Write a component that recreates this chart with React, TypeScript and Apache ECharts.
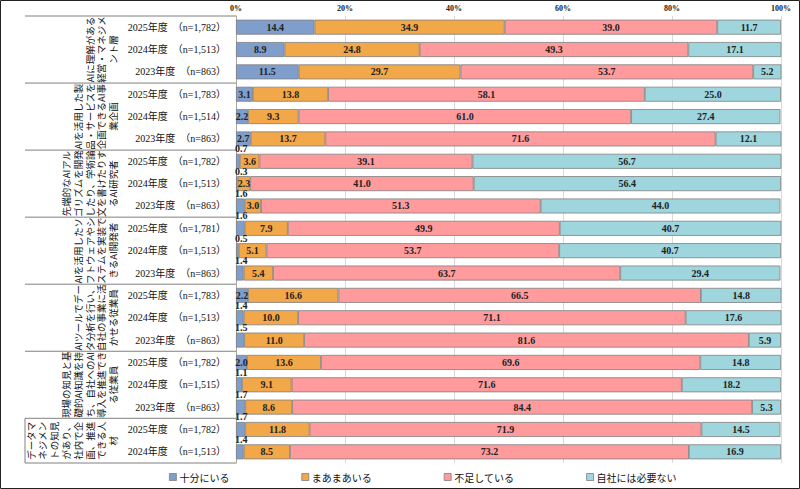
import React, { useEffect, useRef } from "react";
import * as echarts from "echarts";

const seriesNames = ["十分にいる", "まあまあいる", "不足している", "自社には必要ない"];
const colors = ["#7f9ecb", "#f2a748", "#ff9b9d", "#9fd5dc"];

const groupLines: string[][] = [
  ["AIに理解がある", "経営・マネジメ", "ント層"],
  ["AIを活用した製", "品・サービスを", "企画できるAI事", "業企画"],
  ["先端的なAIアル", "ゴリズムを開発", "したり、学術論", "文を書けたりす", "るAI研究者"],
  ["AIを活用したソ", "フトウェアやシ", "ステムを実装で", "きるAI開発者"],
  ["AIツールでデー", "タ分析を行い、", "自社の事業に活", "かせる従業員"],
  ["現場の知見と基", "礎的AI知識を持", "ち、自社へのAI", "導入を推進でき", "る従業員"],
  ["データマ", "ネジメン", "トの知見", "があり、", "社内で企", "画、推進", "できる人", "材"],
];
const groupSizes = [3, 3, 3, 3, 3, 3, 2];

const years = [
  "2025年度", "2024年度", "2023年度",
  "2025年度", "2024年度", "2023年度",
  "2025年度", "2024年度", "2023年度",
  "2025年度", "2024年度", "2023年度",
  "2025年度", "2024年度", "2023年度",
  "2025年度", "2024年度", "2023年度",
  "2025年度", "2024年度",
];
const nValues = [
  "1,782", "1,513", "863",
  "1,783", "1,514", "863",
  "1,782", "1,513", "863",
  "1,781", "1,513", "863",
  "1,783", "1,513", "863",
  "1,782", "1,515", "863",
  "1,782", "1,513",
];

const sufficient = [14.4, 8.9, 11.5, 3.1, 2.2, 2.7, 0.7, 0.3, 1.6, 1.6, 0.5, 1.4, 2.2, 1.4, 1.5, 2.0, 1.1, 1.7, 1.7, 1.4];
const somewhat = [34.9, 24.8, 29.7, 13.8, 9.3, 13.7, 3.6, 2.3, 3.0, 7.9, 5.1, 5.4, 16.6, 10.0, 11.0, 13.6, 9.1, 8.6, 11.8, 8.5];
const shortage = [39.0, 49.3, 53.7, 58.1, 61.0, 71.6, 39.1, 41.0, 51.3, 49.9, 53.7, 63.7, 66.5, 71.1, 81.6, 69.6, 71.6, 84.4, 71.9, 73.2];
const unnecessary = [11.7, 17.1, 5.2, 25.0, 27.4, 12.1, 56.7, 56.4, 44.0, 40.7, 40.7, 29.4, 14.8, 17.6, 5.9, 14.8, 18.2, 5.3, 14.5, 16.9];

const xTicks = [0, 20, 40, 60, 80, 100];

const W = 800;
const H = 489;
const GRID_LEFT = 236;
const GRID_RIGHT = 19;
const GRID_TOP = 16;
const GRID_BOTTOM = 26;

const NUM_FONT = "'Liberation Serif', 'Noto Sans CJK JP', serif";
const JP_FONT = "'Noto Sans CJK JP', sans-serif";

export default function App() {
  const ref = useRef<HTMLDivElement>(null);

  useEffect(() => {
    if (!ref.current) return;
    const chart = echarts.init(ref.current, null, { renderer: "svg" });

    const categories = years.map((y, i) => `${y}　（n=${nValues[i]}）`);
    const nRows = categories.length;
    const rowH = (H - GRID_TOP - GRID_BOTTOM) / nRows;

    const allData = [sufficient, somewhat, shortage, unnecessary];

    const series = allData.map((arr, si) => ({
      name: seriesNames[si],
      type: "bar",
      stack: "total",
      barWidth: 15,
      itemStyle: { color: colors[si], borderColor: "#808080", borderWidth: 0.8 },
      data: arr.map((v) => {
        const small = si === 0 && v < 2;
        return {
          value: v,
          label: small
            ? {
                show: true,
                position: [-1, -10],
                align: "left",
                verticalAlign: "top",
              }
            : { show: true, position: "inside" },
        };
      }),
      label: {
        show: true,
        formatter: (p: any) => Number(p.value).toFixed(1),
        fontSize: 10,
        fontFamily: NUM_FONT,
        fontWeight: "bold",
        color: "#222",
      },
    }));

    const graphics: any[] = [];
    graphics.push({
      type: "rect",
      shape: { x: 0.5, y: 0.5, width: W - 1, height: H - 1 },
      style: { fill: "none", stroke: "#222", lineWidth: 1 },
      silent: true,
    });
    let idx = 0;
    groupSizes.forEach((size, g) => {
      const yStart = GRID_TOP + idx * rowH;
      const yEnd = GRID_TOP + (idx + size) * rowH;
      graphics.push({
        type: "line",
        shape: { x1: 25, y1: yStart, x2: GRID_LEFT, y2: yStart },
        style: { stroke: "#808080", lineWidth: 1 },
        silent: true,
      });
      const lines = groupLines[g];
      const lh = 11.8;
      lines.forEach((line, li) => {
        const cx = 119 - (lines.length - li - 0.5) * lh;
        graphics.push({
          type: "text",
          x: cx,
          y: (yStart + yEnd) / 2,
          rotation: Math.PI / 2,
          style: {
            text: line,
            fontSize: 9.5,
            fontFamily: JP_FONT,
            fill: "#111",
            align: "center",
            verticalAlign: "middle",
          },
          silent: true,
        });
      });
      idx += size;
    });
    const yBottom = GRID_TOP + nRows * rowH;
    graphics.push({
      type: "line",
      shape: { x1: 25, y1: yBottom, x2: GRID_LEFT, y2: yBottom },
      style: { stroke: "#808080", lineWidth: 1 },
      silent: true,
    });
    const lastStart = GRID_TOP + (nRows - groupSizes[groupSizes.length - 1]) * rowH;
    graphics.push({
      type: "line",
      shape: { x1: 25, y1: lastStart, x2: 25, y2: yBottom },
      style: { stroke: "#808080", lineWidth: 1 },
      silent: true,
    });

    chart.setOption({
      animation: false,
      backgroundColor: "#ffffff",
      grid: {
        left: GRID_LEFT,
        right: GRID_RIGHT,
        top: GRID_TOP,
        bottom: GRID_BOTTOM,
        containLabel: false,
      },
      legend: {
        data: seriesNames,
        left: 164,
        top: 467,
        itemWidth: 7,
        itemHeight: 7,
        itemGap: 72,
        itemStyle: { borderColor: "#808080", borderWidth: 0.8 },
        icon: "rect",
        textStyle: { fontSize: 10, fontFamily: JP_FONT, color: "#111", padding: [0, 0, 0, -2] },
      },
      xAxis: {
        type: "value",
        position: "top",
        min: xTicks[0],
        max: xTicks[xTicks.length - 1],
        interval: xTicks[1] - xTicks[0],
        axisLine: { show: false },
        axisTick: { show: false },
        splitLine: { show: true, lineStyle: { color: "#d9d9d9", width: 1 } },
        axisLabel: {
          formatter: "{value}%",
          fontSize: 8,
          fontFamily: NUM_FONT,
          fontWeight: "bold",
          color: "#222",
          margin: 4,
        },
      },
      yAxis: {
        type: "category",
        inverse: true,
        data: categories,
        axisLine: { show: true, lineStyle: { color: "#a6a6a6", width: 1 } },
        axisTick: { show: false },
        splitLine: { show: false },
        axisLabel: {
          fontSize: 10,
          fontFamily: NUM_FONT,
          color: "#111",
          margin: 10,
          align: "right",
        },
      },
      series,
      graphic: graphics,
    });

    return () => chart.dispose();
  }, []);

  return (
    <div
      ref={ref}
      style={{ position: "fixed", left: 0, top: 0, width: W, height: H, background: "#fff" }}
    />
  );
}
